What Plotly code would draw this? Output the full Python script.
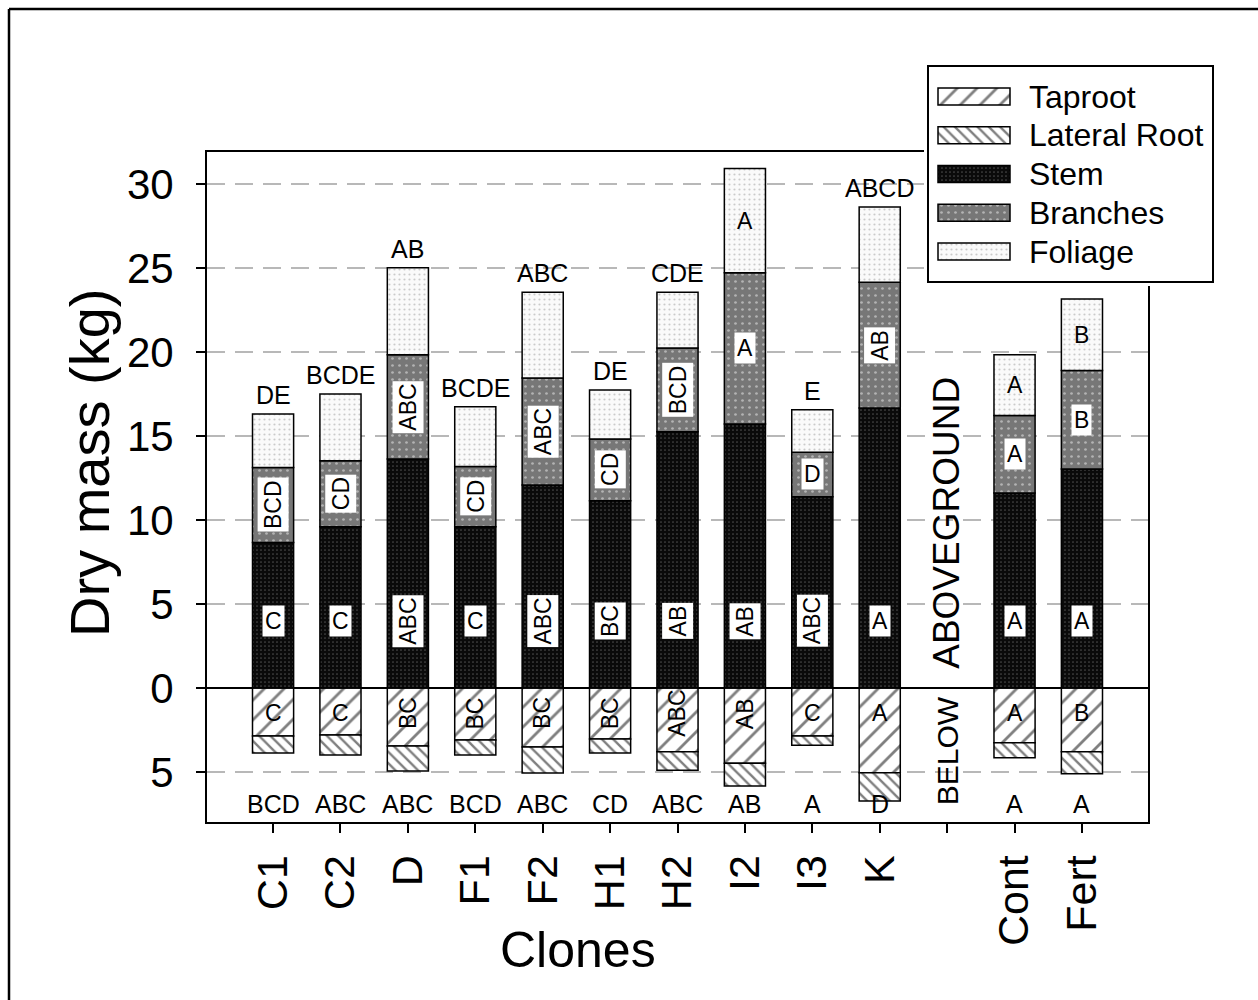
import plotly.graph_objects as go

W, H = 1258, 1000

# ---- data -------------------------------------------------------------
clones = ["C1", "C2", "D", "F1", "F2", "H1", "H2", "I2", "I3", "K", "", "Cont", "Fert"]

taproot = [2.86, 2.80, 3.45, 3.09, 3.51, 3.03, 3.79, 4.48, 2.86, 5.04, None, 3.26, 3.79]
lateral_root = [1.01, 1.19, 1.49, 0.90, 1.55, 0.84, 1.11, 1.36, 0.55, 1.69, None, 0.89, 1.31]
stem = [8.67, 9.61, 13.64, 9.61, 12.09, 11.16, 15.27, 15.73, 11.40, 16.68, None, 11.62, 13.05]
branches = [4.47, 3.93, 6.22, 3.59, 6.38, 3.68, 4.99, 9.00, 2.64, 7.49, None, 4.61, 5.86]
foliage = [3.19, 3.98, 5.17, 3.56, 5.11, 2.92, 3.32, 6.21, 2.53, 4.48, None, 3.63, 4.27]

# significance letters
total_letters = ["DE", "BCDE", "AB", "BCDE", "ABC", "DE", "CDE", "", "E", "ABCD", "", "", ""]
stem_letters = ["C", "C", "ABC", "C", "ABC", "BC", "AB", "AB", "ABC", "A", "", "A", "A"]
branch_letters = ["BCD", "CD", "ABC", "CD", "ABC", "CD", "BCD", "A", "D", "AB", "", "A", "B"]
foliage_letters = ["", "", "", "", "", "", "", "A", "", "", "", "A", "B"]
taproot_letters = ["C", "C", "BC", "BC", "BC", "BC", "ABC", "AB", "C", "A", "", "A", "B"]
lateral_letters = ["BCD", "ABC", "ABC", "BCD", "ABC", "CD", "ABC", "AB", "A", "D", "", "A", "A"]

y_ticks = [-5, 0, 5, 10, 15, 20, 25, 30]
y_ticktext = ["5", "0", "5", "10", "15", "20", "25", "30"]

component_names = ["Taproot", "Lateral Root", "Stem", "Branches", "Foliage"]

# ---- styling ----------------------------------------------------------
FONT = "Liberation Sans, Arial, sans-serif"
patterns = {
    "Taproot": dict(shape="/", bgcolor="white", fgcolor="black", size=14, solidity=0.2),
    "Lateral Root": dict(shape="\\", bgcolor="white", fgcolor="black", size=8, solidity=0.3),
    "Stem": dict(shape=".", bgcolor="#0a0a0a", fgcolor="#8a8a8a", size=4, solidity=0.15),
    "Branches": dict(shape=".", bgcolor="#777777", fgcolor="#f0f0f0", size=7, solidity=0.12),
    "Foliage": dict(shape=".", bgcolor="#fafafa", fgcolor="#9a9a9a", size=5, solidity=0.15),
}


def px_x(p):
    return p / W


def px_y(p):
    return 1 - p / H


x_pos = list(range(len(clones)))


def neg(vals):
    return [None if v is None else -v for v in vals]


series = {
    "Taproot": neg(taproot),
    "Lateral Root": neg(lateral_root),
    "Stem": stem,
    "Branches": branches,
    "Foliage": foliage,
}

fig = go.Figure()

for name in component_names:
    fig.add_trace(go.Bar(
        x=x_pos, y=series[name], name=name, width=0.61,
        marker=dict(color=patterns[name]["bgcolor"],
                    line=dict(color="black", width=1.5),
                    pattern=patterns[name]),
        showlegend=False, hoverinfo="skip",
        xaxis="x", yaxis="y",
    ))

# ---- custom legend drawn on its own small axes -------------------------
leg_left, leg_right, leg_top, leg_bottom = 928, 1213, 66, 282
row0, row_step = 96.5, 38.75
for i, name in enumerate(component_names):
    yc = row0 + i * row_step
    fig.add_trace(go.Bar(
        x=[72], base=[938], y=[yc], width=[17], orientation="h",
        marker=dict(color=patterns[name]["bgcolor"],
                    line=dict(color="black", width=1.5),
                    pattern=patterns[name]),
        showlegend=False, hoverinfo="skip", xaxis="x2", yaxis="y2",
    ))
    fig.add_annotation(x=1027, y=yc, xref="x2", yref="y2", text=name,
                       showarrow=False, xanchor="left", yanchor="middle",
                       font=dict(family=FONT, size=32, color="black"))

fig.add_shape(type="rect", xref="x2", yref="y2", layer="below",
              x0=leg_left, x1=leg_right, y0=leg_top, y1=leg_bottom,
              fillcolor="white", line=dict(color="black", width=2))

# ---- letters on the bars ----------------------------------------------
def label(x, y, text, box=False, size=23, rotate=None, **kw):
    if not text:
        return
    ang = rotate if rotate is not None else (-90 if len(text) > 1 else 0)
    fig.add_annotation(x=x, y=y, xref="x", yref="y", text=text, showarrow=False,
                       textangle=ang,
                       bgcolor="white" if box else None, borderpad=2,
                       font=dict(family=FONT, size=size, color="black"), **kw)


for i in x_pos:
    if stem[i] is None:
        continue
    s, b, f = stem[i], branches[i], foliage[i]
    total = s + b + f
    label(i, total, total_letters[i], rotate=0, yanchor="bottom", yshift=2, size=25)
    label(i, 4.0, stem_letters[i], box=True)
    label(i, s + b / 2, branch_letters[i], box=True)
    label(i, s + b + f / 2, foliage_letters[i])
    label(i, -1.5, taproot_letters[i])
    label(i, -6.9, lateral_letters[i], rotate=0, size=25)

blank = clones.index("")
fig.add_annotation(x=blank, y=9.85, xref="x", yref="y", text="ABOVEGROUND",
                   textangle=-90, showarrow=False,
                   font=dict(family=FONT, size=37, color="black"))
fig.add_annotation(x=blank, y=-3.76, xref="x", yref="y", text="BELOW",
                   textangle=-90, showarrow=False,
                   font=dict(family=FONT, size=30, color="black"))

# axis titles
fig.add_annotation(x=px_x(89), y=px_y(463), xref="paper", yref="paper",
                   xanchor="center", yanchor="middle",
                   text="Dry mass (kg)", textangle=-90, showarrow=False,
                   font=dict(family=FONT, size=56, color="black"))
fig.add_annotation(x=px_x(578), y=px_y(950), xref="paper", yref="paper",
                   xanchor="center", yanchor="middle",
                   text="Clones", showarrow=False,
                   font=dict(family=FONT, size=50, color="black"))

# outer frame (top and left edges)
fig.add_shape(type="line", xref="paper", yref="paper",
              x0=px_x(9), x1=1.01, y0=px_y(9), y1=px_y(9),
              line=dict(color="black", width=2.5))
fig.add_shape(type="line", xref="paper", yref="paper",
              x0=px_x(9), x1=px_x(9), y0=px_y(9), y1=-0.01,
              line=dict(color="black", width=2.5))

fig.update_layout(
    width=W, height=H,
    margin=dict(l=0, r=0, t=0, b=0),
    paper_bgcolor="white", plot_bgcolor="white",
    barmode="relative", bargap=0.39,
    showlegend=False,
    font=dict(family=FONT, color="black"),
    xaxis=dict(
        domain=[px_x(207), px_x(1148)],
        range=[-0.98, len(clones) - 0.02],
        tickmode="array", tickvals=x_pos, ticktext=clones,
        tickangle=-90, tickfont=dict(size=43, family=FONT),
        ticks="outside", ticklen=9, tickwidth=1.5, tickcolor="black",
        ticklabelstandoff=5,
        showgrid=False, zeroline=False,
        showline=True, linecolor="black", linewidth=2, mirror=True,
    ),
    yaxis=dict(
        domain=[px_y(822), px_y(152)],
        range=[-7.98, 31.93],
        tickmode="array", tickvals=y_ticks, ticktext=y_ticktext,
        tickfont=dict(size=42, family=FONT),
        ticks="outside", ticklen=9, tickwidth=1.5, tickcolor="black",
        ticklabelstandoff=14,
        showgrid=True, gridcolor="#b8b8b8", gridwidth=2, griddash="18px,10px",
        zeroline=True, zerolinecolor="black", zerolinewidth=1.5,
        showline=True, linecolor="black", linewidth=2, mirror=True,
    ),
    xaxis2=dict(domain=[px_x(924), px_x(1217)], range=[924, 1217],
                visible=False, fixedrange=True),
    yaxis2=dict(domain=[px_y(286), px_y(62)], range=[286, 62],
                visible=False, fixedrange=True),
)

fig.write_html("out.html")
